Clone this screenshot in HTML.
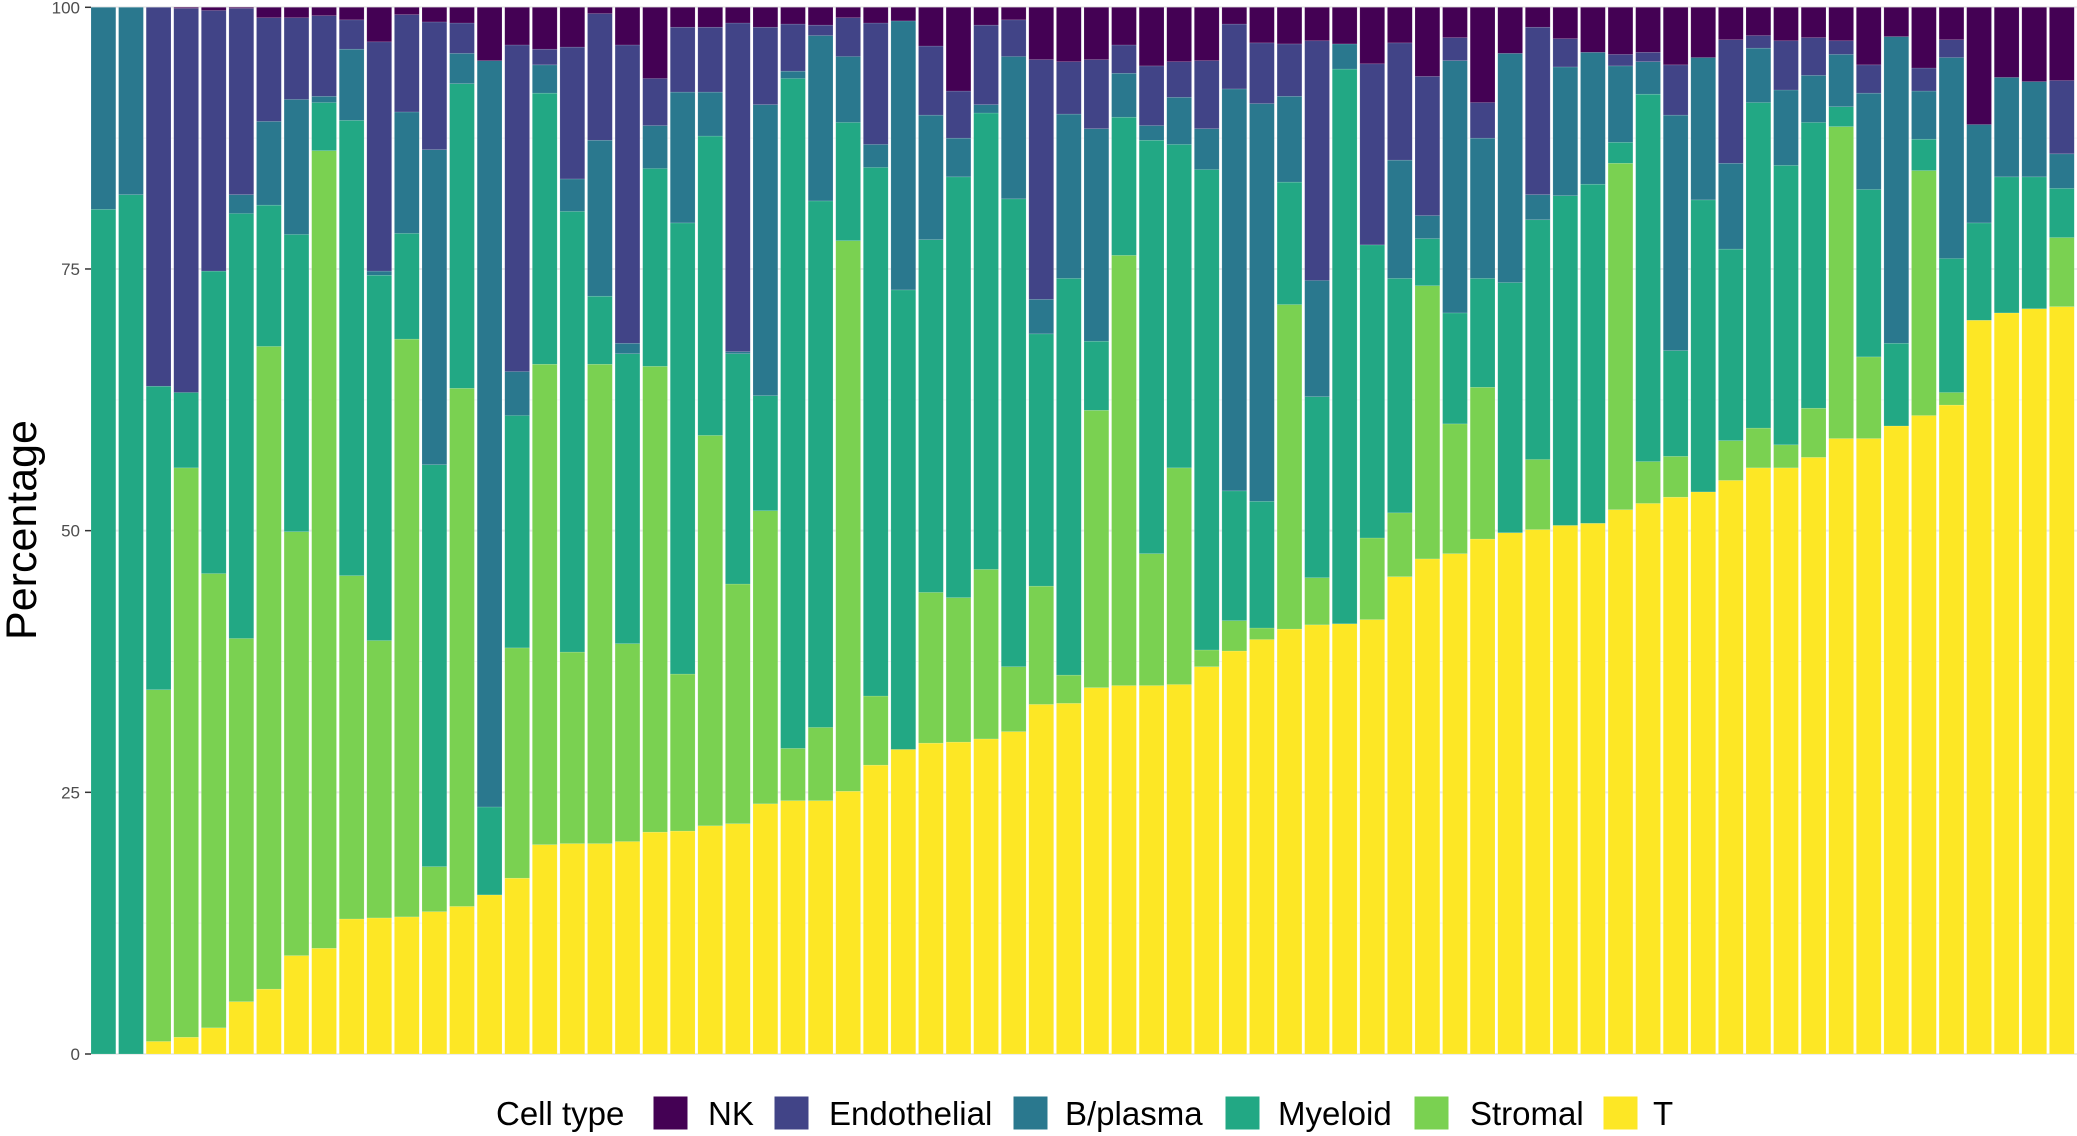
<!DOCTYPE html>
<html><head><meta charset="utf-8"><style>
html,body{margin:0;padding:0;background:#fff;}
svg{display:block;font-family:"Liberation Sans",Arial,sans-serif;}
</style></head><body>
<svg id="chart" width="2077" height="1136" viewBox="0 0 2077 1136" xmlns="http://www.w3.org/2000/svg">
<g id="grid"></g>
<g id="bars"></g>
<g id="yaxis"></g>
<text x="0" y="0" transform="translate(36,530) rotate(-90)" text-anchor="middle" font-size="43" fill="#000">Percentage</text>
<g id="legend">
<text x="496" y="1125" font-size="33" fill="#000">Cell type</text>
</g>
</svg>
<script>
const categories = Array.from({length:72}, (_, i) => 'S' + (i + 1));
const seriesNames = ['T','Stromal','Myeloid','B/plasma','Endothelial','NK'];
const tVals = [0,0,1.2,1.6,2.5,5.0,6.2,9.4,10.1,12.9,13.0,13.1,13.6,14.1,15.2,16.8,20.0,20.1,20.1,20.3,21.2,21.3,21.8,22.0,23.9,24.2,24.2,25.1,27.6,29.1,29.7,29.8,30.1,30.8,33.4,33.5,35.0,35.2,35.2,35.3,37.0,38.5,39.6,40.6,41.0,41.1,41.5,45.6,47.3,47.8,49.2,49.8,50.1,50.5,50.7,52.0,52.6,53.2,53.7,54.8,56.0,56.0,57.0,58.8,58.8,60.0,61.0,62.0,70.1,70.8,71.2,71.4];
const stromalVals = [0,0,33.6,54.4,43.4,34.7,61.4,40.5,76.2,32.8,26.5,55.2,4.3,49.5,0,22.0,45.9,18.3,45.8,18.9,44.5,15.0,37.3,22.9,28.0,5.0,7.0,52.6,6.6,0,14.4,13.8,16.2,6.2,11.3,2.7,26.5,41.1,12.6,20.7,1.6,2.9,1.1,31.0,4.5,0,7.8,6.1,26.1,12.4,14.5,0,6.7,0,0,33.1,4.0,3.9,0,3.8,3.8,2.2,4.7,29.8,7.8,0,23.4,1.2,0,0,0,6.6];
const myeloidVals = [80.7,82.1,29.0,7.2,28.9,40.6,13.5,28.4,4.6,43.5,34.9,10.1,38.4,29.1,8.4,22.2,25.9,42.1,6.5,27.7,18.9,43.1,28.6,22.0,11.0,64.0,50.3,11.3,50.5,43.9,33.7,40.2,43.6,44.7,24.1,37.9,6.6,13.2,39.5,30.9,45.9,12.4,12.1,11.7,17.3,53.0,28.0,22.4,4.5,10.6,10.4,23.9,22.9,31.5,32.4,2.0,35.1,10.1,27.9,18.3,31.1,26.7,27.3,1.9,16.0,7.9,3.0,12.8,9.3,13.0,12.6,4.7];
const bplasmaVals = [19.3,17.9,0,0,0,1.8,8.0,12.9,0.6,6.8,0.4,11.6,30.1,2.9,71.3,4.2,2.7,3.1,14.9,1.0,4.1,12.5,4.2,0.2,27.8,0.7,15.8,6.3,2.2,25.7,11.9,3.7,0.8,13.6,3.3,15.7,20.3,4.2,1.4,4.5,3.9,38.4,38.0,8.2,11.1,2.4,0,11.3,2.2,24.1,13.4,21.9,2.4,12.3,12.6,7.3,3.1,22.5,13.6,8.2,5.2,7.2,4.5,5.0,9.2,29.3,4.6,19.2,9.4,9.5,9.1,3.3];
const endoVals = [0,0,36.2,36.7,24.9,17.8,9.9,7.8,7.7,2.8,21.9,9.3,12.2,2.9,0,31.2,1.5,12.6,12.1,28.5,4.5,6.2,6.2,31.4,7.4,4.5,1.0,3.7,11.6,0,6.6,4.5,7.6,3.5,22.9,5.0,6.6,2.7,5.7,3.4,6.5,6.2,5.8,5.0,22.9,0,17.3,11.2,13.3,2.2,3.4,0,16.0,2.7,0,1.1,0.9,4.8,0,11.8,1.2,4.7,3.6,1.3,2.7,0,2.2,1.7,0,0,0,7.0];
const nkVals = [0,0,0,0.1,0.3,0.1,1.0,1.0,0.8,1.2,3.3,0.7,1.4,1.5,5.1,3.6,4.0,3.8,0.6,3.6,6.8,1.9,1.9,1.5,1.9,1.6,1.7,1.0,1.5,1.3,3.7,8.0,1.7,1.2,5.0,5.2,5.0,3.6,5.6,5.2,5.1,1.6,3.4,3.5,3.2,3.5,5.4,3.4,6.6,2.9,9.1,4.4,1.9,3.0,4.3,4.5,4.3,5.5,4.8,3.1,2.7,3.2,2.9,3.2,5.5,2.8,5.8,3.1,11.2,6.7,7.1,7.0];
const yTicks = [0,25,50,75,100];
const legendLabels = ['NK','Endothelial','B/plasma','Myeloid','Stromal','T'];

const NS = 'http://www.w3.org/2000/svg';
const colors = {'T':'#FDE725','Stromal':'#7AD151','Myeloid':'#22A884','B/plasma':'#2A788E','Endothelial':'#414487','NK':'#440154'};
const series = [tVals, stromalVals, myeloidVals, bplasmaVals, endoVals, nkVals];
const X0 = 91, X1 = 2077, Y0 = 1054, Y1 = 7.3;
const step = (X1 - X0) / categories.length;
const bw = step * 0.9;
function xScale(i){ return X0 + i * step; }
function yScale(v){ return Y0 - (v / 100) * (Y0 - Y1); }
function mk(tag, attrs){ const e = document.createElementNS(NS, tag); for (const k in attrs) e.setAttribute(k, attrs[k]); return e; }

const grid = document.getElementById('grid');
for (let v = 0; v <= 100; v += 12.5) {
  const l = mk('line', {x1:X0, x2:X1, y1:yScale(v), y2:yScale(v), stroke: v % 25 === 0 ? '#ebebeb' : '#f3f3f3', 'stroke-width': v % 25 === 0 ? 2 : 1});
  
  
  grid.appendChild(l);
}

const bars = document.getElementById('bars');
categories.forEach((c, i) => {
  let cum = 0;
  series.forEach((vals, s) => {
    const v = vals[i];
    const yTop = yScale(cum + v), yBot = yScale(cum);
    cum += v;
    if (v <= 0) return;
    const r = mk('rect', {x: xScale(i), y: yTop, width: bw, height: Math.max(0, yBot - yTop), fill: colors[seriesNames[s]], stroke: 'rgba(255,255,255,0.25)', 'stroke-width': 0.5});
    
    
    bars.appendChild(r);
  });
});

const yaxis = document.getElementById('yaxis');
yTicks.forEach(t => {
  const tk = mk('line', {x1:85, x2:91, y1:yScale(t), y2:yScale(t), stroke:'#333', 'stroke-width':1.5});
  
  
  yaxis.appendChild(tk);
  const tx = mk('text', {x:80, y:yScale(t) + 6, 'text-anchor':'end', 'font-size':17, fill:'#4d4d4d'});
  tx.textContent = String(t);
  
  
  yaxis.appendChild(tx);
});

const legend = document.getElementById('legend');
const keyX = [653, 774, 1013, 1225, 1414, 1603];
const textX = [708, 829, 1065, 1278, 1470, 1653];
legendLabels.forEach((lab, i) => {
  const k = mk('rect', {x:keyX[i], y:1096, width:35, height:34, fill:colors[lab], stroke:'#fff'});
  
  
  legend.appendChild(k);
  const t = mk('text', {x:textX[i], y:1125, 'font-size':33, fill:'#000'});
  t.textContent = lab;
  
  
  legend.appendChild(t);
});
</script>
</body></html>
